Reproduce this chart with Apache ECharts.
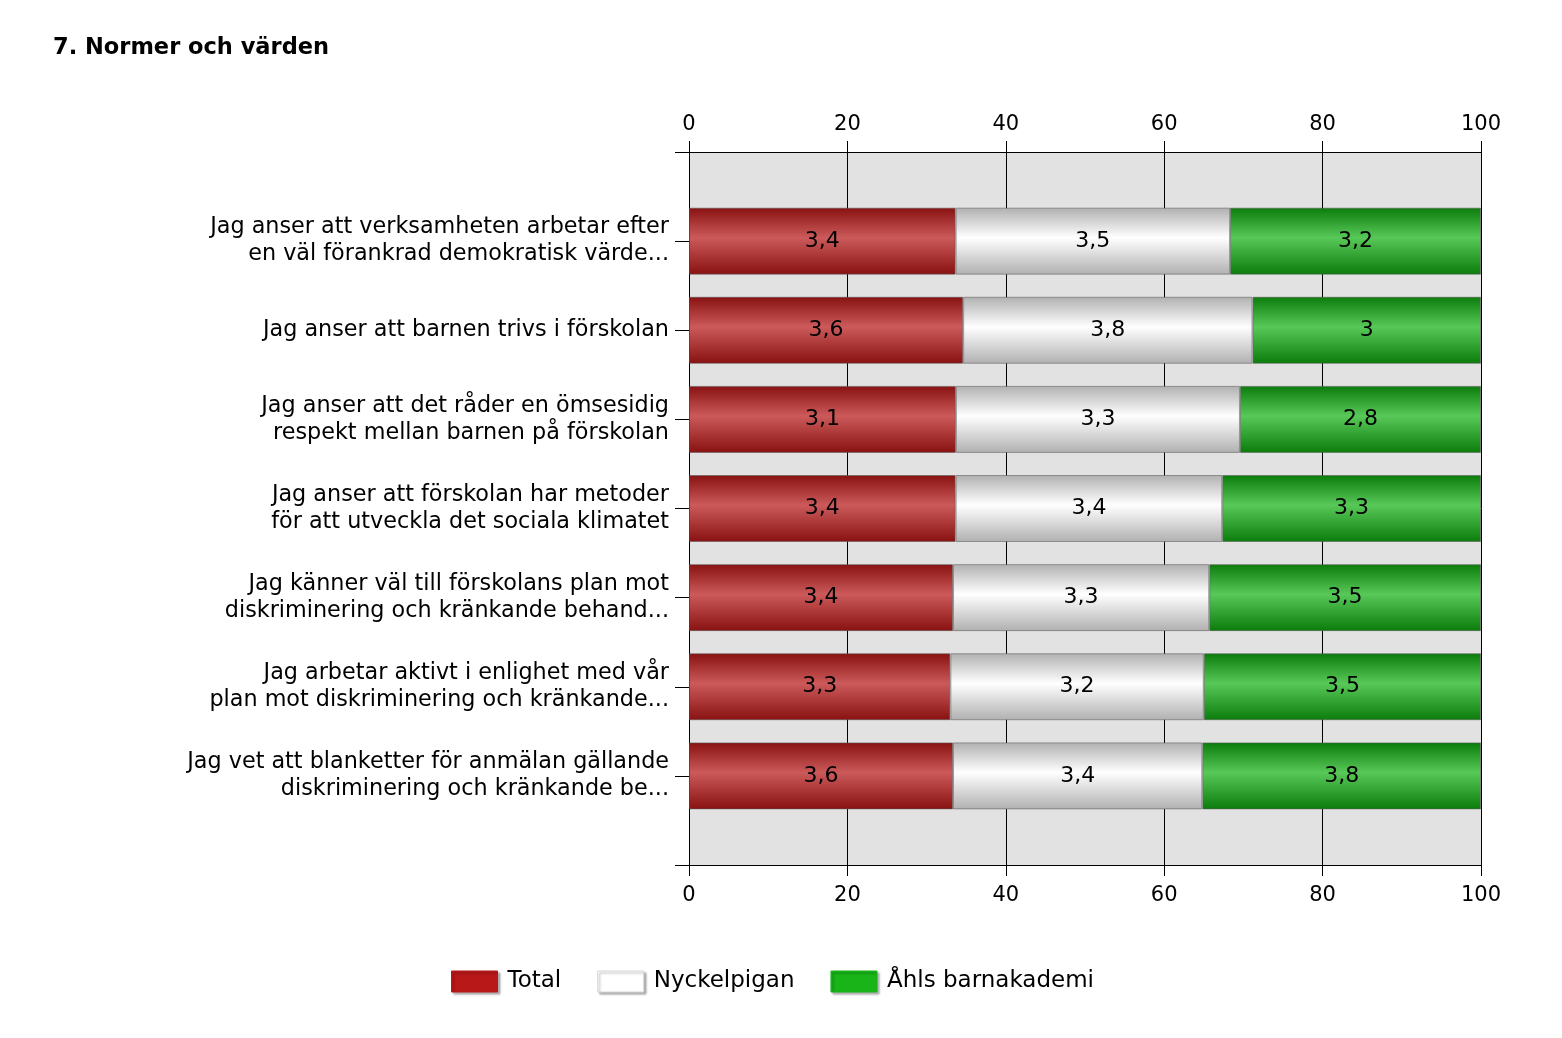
<!DOCTYPE html>
<html>
<head>
<meta charset="utf-8">
<script src="https://cdn.jsdelivr.net/npm/echarts@6/dist/echarts.min.js"></script>
<style>
html,body{margin:0;padding:0;background:#fff;}
#chart{width:1562px;height:1038px;}
</style>
</head>
<body>
<div id="chart"></div>
<script>
const categories = [
  "Jag anser att verksamheten arbetar efter\nen väl förankrad demokratisk värde...",
  "Jag anser att barnen trivs i förskolan",
  "Jag anser att det råder en ömsesidig\nrespekt mellan barnen på förskolan",
  "Jag anser att förskolan har metoder\nför att utveckla det sociala klimatet",
  "Jag känner väl till förskolans plan mot\ndiskriminering och kränkande behand...",
  "Jag arbetar aktivt i enlighet med vår\nplan mot diskriminering och kränkande...",
  "Jag vet att blanketter för anmälan gällande\ndiskriminering och kränkande be..."
];
const seriesNames = ["Total", "Nyckelpigan", "Åhls barnakademi"];
const totalValues = [3.4, 3.6, 3.1, 3.4, 3.4, 3.3, 3.6];
const nyckelpiganValues = [3.5, 3.8, 3.3, 3.4, 3.3, 3.2, 3.4];
const ahlsValues = [3.2, 3.0, 2.8, 3.3, 3.5, 3.5, 3.8];
const xTicks = [0, 20, 40, 60, 80, 100];

const FONT = "DejaVu Sans";
const raw = [totalValues, nyckelpiganValues, ahlsValues];
const sums = totalValues.map((v, i) => totalValues[i] + nyckelpiganValues[i] + ahlsValues[i]);
const yCats = [''].concat(categories).concat(['']);

function grad(edge, mid) {
  return new echarts.graphic.LinearGradient(0, 0, 0, 1, [
    {offset: 0, color: edge},
    {offset: 0.45, color: mid},
    {offset: 1, color: edge}
  ]);
}
const fills = [grad('#881111', '#cc5a5a'), grad('#b0b0b0', '#ffffff'), grad('#0b7c0b', '#58c858')];
const legendColors = ['#b81818', '#ffffff', '#18b418'];

const series = raw.map((vals, s) => ({
  name: seriesNames[s],
  type: 'bar',
  stack: 'all',
  barWidth: 67,
  data: ['-'].concat(vals.map((v, i) => v / sums[i] * 100)).concat(['-']),
  itemStyle: {color: fills[s], borderColor: 'rgba(90,90,90,0.55)', borderWidth: 1},
  label: {
    show: true, position: 'inside', color: '#000', fontSize: 22, fontFamily: FONT,
    formatter: p => String(vals[p.dataIndex - 1]).replace('.', ',')
  },
  emphasis: {disabled: true}
}));

const xAxisBase = {
  type: 'value', min: 0, max: 100, interval: 20,
  axisLine: {show: true, lineStyle: {color: '#000', width: 1}},
  axisTick: {show: true, length: 11, lineStyle: {color: '#000'}},
  axisLabel: {fontSize: 21, color: '#000', fontFamily: FONT, margin: 17,
    formatter: v => xTicks.includes(v) ? String(v) : ''}
};

const chart = echarts.init(document.getElementById('chart'), null, {renderer: 'canvas'});
chart.setOption({
  animation: false,
  backgroundColor: '#fff',
  title: {text: '7. Normer och värden', left: 48, top: 32,
    textStyle: {fontSize: 22.5, fontWeight: 'bold', color: '#000', fontFamily: FONT}},
  grid: {left: 689, right: 81, top: 152, bottom: 173, show: true,
    backgroundColor: '#e2e2e2', borderWidth: 0},
  legend: {
    bottom: 40, left: 446, itemWidth: 46, itemHeight: 21, itemGap: 36, icon: 'rect',
    textStyle: {fontSize: 23, color: '#000', fontFamily: FONT, padding: [0, 0, 0, 5]},
    data: seriesNames.map((n, i) => ({name: n, itemStyle: {color: legendColors[i],
      borderColor: i === 1 ? '#d6d6d6' : legendColors[i], borderWidth: 1,
      shadowColor: 'rgba(0,0,0,0.3)', shadowOffsetX: 2, shadowOffsetY: 2, shadowBlur: 2}}))
  },
  xAxis: [
    Object.assign({}, xAxisBase, {position: 'top', splitLine: {show: true, lineStyle: {color: '#000', width: 1}}}),
    Object.assign({}, xAxisBase, {position: 'bottom', splitLine: {show: false},
      axisLabel: Object.assign({}, xAxisBase.axisLabel, {margin: 20})})
  ],
  yAxis: {
    type: 'category', inverse: true, boundaryGap: false, data: yCats,
    axisLine: {show: true, lineStyle: {color: '#000'}},
    axisTick: {show: true, length: 14, lineStyle: {color: '#000'}},
    axisLabel: {fontSize: 22.3, lineHeight: 27, color: '#000', fontFamily: FONT, margin: 20, align: 'right', interval: 0},
    splitLine: {show: false}
  },
  series: series
});
</script>
</body>
</html>
